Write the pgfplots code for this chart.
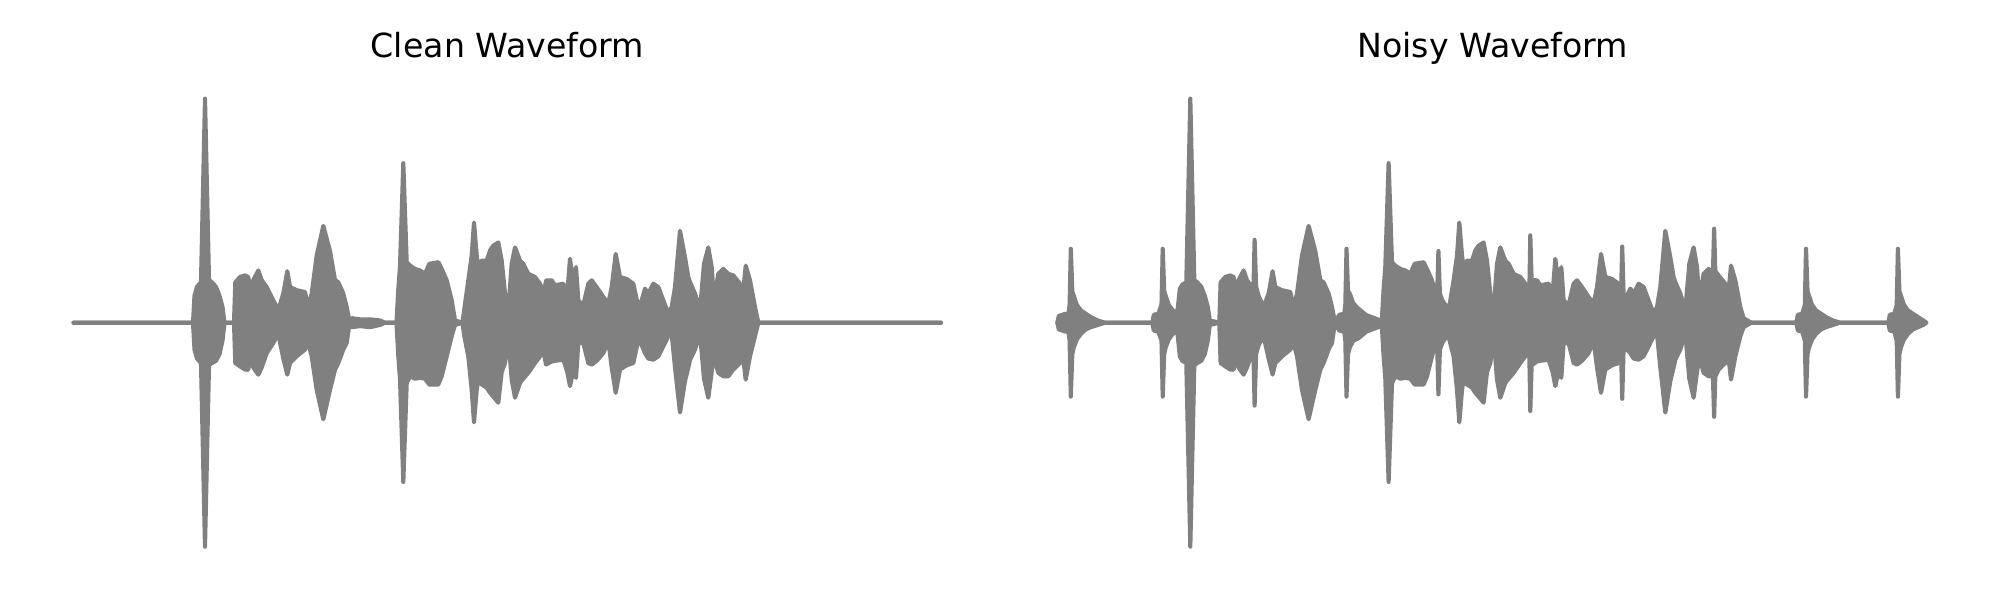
\documentclass[border=0pt]{standalone}
\usepackage{fontspec}
\setmainfont{DejaVu Sans}
\usepackage{pgfplots}
\pgfplotsset{compat=1.18}
\usepackage{pgfplotstable}
\definecolor{wf}{HTML}{808080}
\pgfplotstableread{
x u l
73.5 0 0
193 0 0
194.5 0.12 -0.12
197 0.16 -0.16
201 0.18 -0.18
205 1.0 -1.0
209 0.19 -0.19
212 0.18 -0.18
216 0.16 -0.17
219.5 0.12 -0.14
222.5 0.07 -0.08
224.5 0 0
234 0 0
235.3 0.18 -0.18
240 0.204 -0.195
245 0.211 -0.209
248.3 0.204 -0.21
250.7 0.13 -0.136
253.3 0.19 -0.20
258.3 0.233 -0.232
261.7 0.19 -0.20
266.7 0.159 -0.136
273.3 0.10 -0.09
278.3 0.056 -0.05
283.3 0.13 -0.16
287.3 0.23 -0.232
290 0.159 -0.18
296.7 0.145 -0.15
305 0.137 -0.12
308.3 0.07 -0.09
311.7 0.13 -0.15
316.7 0.30 -0.30
323.3 0.432 -0.431
330 0.32 -0.30
335 0.19 -0.21
338.3 0.18 -0.18
343.3 0.13 -0.12
346.7 0.07 -0.09
349.3 0.01 -0.01
352 0.02 -0.02
360 0.015 -0.015
370 0.015 -0.02
380 0.01 -0.01
385 0 0
396.5 0 0
398.3 0.15 -0.15
400 0.25 -0.25
403.3 0.712 -0.711
406.7 0.27 -0.27
410 0.255 -0.239
415 0.24 -0.25
420 0.233 -0.246
425 0.218 -0.25
429.3 0.263 -0.276
438.3 0.27 -0.276
441.7 0.24 -0.239
446.7 0.189 -0.15
451.7 0.10 -0.06
455 0.01 -0.01
462.5 0 0
464.3 0.06 -0.06
468.3 0.189 -0.15
471.7 0.30 -0.30
474 0.447 -0.445
476.7 0.30 -0.30
478.3 0.248 -0.254
481.7 0.277 -0.276
486.7 0.277 -0.29
490 0.322 -0.313
493.3 0.344 -0.33
498.3 0.358 -0.357
501.7 0.277 -0.22
505 0.13 -0.18
508.3 0.056 -0.062
511.7 0.263 -0.254
515 0.336 -0.335
520 0.277 -0.268
523.3 0.263 -0.25
528.3 0.218 -0.224
535 0.204 -0.18
540 0.174 -0.15
544 0.13 -0.136
546 0.189 -0.187
551.7 0.189 -0.173
555 0.167 -0.17
563.3 0.174 -0.165
567.3 0.13 -0.22
570 0.285 -0.283
572.7 0.189 -0.224
576 0.248 -0.246
578.3 0.10 -0.091
583.3 0.078 -0.091
588.3 0.174 -0.18
591.7 0.189 -0.187
596.7 0.159 -0.17
603.3 0.115 -0.136
608.3 0.086 -0.08
611.7 0.159 -0.20
615.7 0.307 -0.313
620 0.204 -0.209
626.7 0.195 -0.19
633.3 0.174 -0.18
638.3 0.071 -0.077
641.7 0.10 -0.10
645 0.152 -0.136
648.3 0.13 -0.16
653.3 0.174 -0.165
658.3 0.159 -0.15
663.3 0.10 -0.106
668.3 0.041 -0.06
671.7 0.07 -0.05
675 0.159 -0.20
680 0.41 -0.401
685 0.292 -0.26
688.3 0.204 -0.20
690 0.181 -0.165
695 0.13 -0.12
700 0.056 -0.047
704 0.263 -0.25
708.3 0.336 -0.335
711.7 0.248 -0.22
714 0.10 -0.15
718.3 0.218 -0.224
723.3 0.24 -0.239
728.3 0.218 -0.239
733.3 0.211 -0.209
740 0.174 -0.18
742.7 0.115 -0.136
745.7 0.255 -0.254
750 0.189 -0.15
755 0.07 -0.06
758.3 0 0
941 0 0
}\clean
\pgfplotstableread{
x u l
72 0 0
73.5 0.03 -0.03
77 0.035 -0.035
80 0.04 -0.04
83 0.035 -0.035
84.3 0.08 -0.08
85.5 0.33 -0.33
87 0.14 -0.14
88.5 0.12 -0.11
91.5 0.08 -0.075
95.5 0.055 -0.05
100.5 0.04 -0.03
105.5 0.025 -0.02
112.5 0.01 -0.01
119.5 0 0
167 0 0
168.5 0.035 -0.035
173 0.04 -0.04
176.2 0.08 -0.08
177.4 0.33 -0.33
178.9 0.14 -0.14
180.4 0.12 -0.11
183.4 0.08 -0.075
187.4 0.055 -0.05
192 0.045 -0.04
194.5 0.15 -0.15
197 0.17 -0.17
201 0.18 -0.18
205 1.0 -1.0
209 0.19 -0.19
212 0.18 -0.18
216 0.16 -0.17
219.5 0.12 -0.14
222.5 0.07 -0.08
224.5 0.01 -0.01
234 0 0
235.3 0.18 -0.18
240 0.204 -0.195
245 0.211 -0.209
248.3 0.204 -0.21
250.7 0.13 -0.136
253.3 0.19 -0.20
258.3 0.233 -0.232
261.7 0.19 -0.20
266.7 0.159 -0.136
268.1 0.14 -0.13
269.3 0.37 -0.37
270.8 0.16 -0.14
273.3 0.12 -0.10
278.3 0.07 -0.06
283.3 0.13 -0.16
287.3 0.23 -0.232
290 0.159 -0.18
296.7 0.145 -0.15
305 0.137 -0.12
308.3 0.07 -0.09
311.7 0.13 -0.15
316.7 0.30 -0.30
323.3 0.432 -0.431
330 0.32 -0.30
335 0.19 -0.21
338.3 0.18 -0.18
343.3 0.13 -0.12
346.7 0.07 -0.09
349.3 0.01 -0.01
352 0.02 -0.02
354 0.035 -0.035
359 0.04 -0.04
360 0.08 -0.08
361.2 0.33 -0.33
362.7 0.14 -0.14
364.5 0.13 -0.11
368 0.086 -0.08
373 0.063 -0.07
381 0.034 -0.04
394 0.012 -0.018
396.5 0.01 -0.01
398.3 0.15 -0.15
400 0.25 -0.25
403.3 0.712 -0.711
406.7 0.27 -0.27
410 0.255 -0.239
415 0.24 -0.25
420 0.233 -0.246
425 0.218 -0.25
429.3 0.263 -0.276
438.3 0.27 -0.276
441.7 0.24 -0.239
446.7 0.189 -0.15
451.7 0.10 -0.07
453.1 0.32 -0.32
454.6 0.13 -0.12
457 0.10 -0.09
460 0.08 -0.07
463.3 0.07 -0.065
464.3 0.08 -0.08
468.3 0.189 -0.15
471.7 0.30 -0.30
474 0.447 -0.445
476.7 0.30 -0.30
478.3 0.248 -0.254
481.7 0.277 -0.276
486.7 0.277 -0.29
490 0.322 -0.313
493.3 0.344 -0.33
498.3 0.358 -0.357
501.7 0.277 -0.22
505 0.13 -0.18
508.3 0.056 -0.062
511.7 0.263 -0.254
515 0.336 -0.335
520 0.277 -0.268
523.3 0.263 -0.25
528.3 0.218 -0.224
535 0.204 -0.18
540 0.174 -0.15
544 0.13 -0.136
545 0.39 -0.394
546.3 0.19 -0.19
551.7 0.189 -0.173
555 0.167 -0.17
563.3 0.174 -0.165
567.3 0.13 -0.22
570 0.285 -0.283
572.7 0.189 -0.224
576 0.248 -0.246
578.3 0.10 -0.091
583.3 0.078 -0.091
588.3 0.174 -0.18
591.7 0.189 -0.187
596.7 0.159 -0.17
603.3 0.115 -0.136
608.3 0.086 -0.08
611.7 0.159 -0.20
615.7 0.307 -0.313
620 0.204 -0.209
626.7 0.195 -0.19
633.3 0.174 -0.18
635.7 0.12 -0.12
636.9 0.34 -0.34
638.3 0.12 -0.11
641.7 0.12 -0.12
645 0.152 -0.136
648.3 0.13 -0.16
653.3 0.174 -0.165
658.3 0.159 -0.15
663.3 0.10 -0.106
668.3 0.041 -0.06
671.7 0.07 -0.05
675 0.159 -0.20
680 0.41 -0.401
685 0.292 -0.26
688.3 0.204 -0.20
690 0.181 -0.165
695 0.13 -0.12
700 0.056 -0.047
704 0.263 -0.25
708.3 0.336 -0.335
711.7 0.248 -0.22
714 0.10 -0.15
718.3 0.218 -0.224
723.3 0.24 -0.239
727.6 0.22 -0.239
728.8 0.42 -0.42
730 0.23 -0.24
733.3 0.211 -0.209
740 0.174 -0.18
742.7 0.115 -0.136
745.7 0.255 -0.254
750 0.189 -0.15
755 0.07 -0.06
758.3 0.02 -0.02
762 0.01 -0.01
766 0 0
811 0 0
812.5 0.035 -0.035
817 0.04 -0.04
819.5 0.08 -0.08
820.7 0.33 -0.33
822.2 0.14 -0.14
823.7 0.12 -0.11
826.7 0.08 -0.075
830.7 0.055 -0.05
835.7 0.04 -0.03
840.7 0.025 -0.02
847.7 0.01 -0.01
854.7 0 0
903 0 0
904.5 0.035 -0.035
909 0.04 -0.04
911.4 0.08 -0.08
912.6 0.33 -0.33
914.1 0.14 -0.14
915.6 0.12 -0.11
918.6 0.08 -0.075
922.6 0.055 -0.05
927.6 0.04 -0.03
932.6 0.025 -0.02
938 0.01 -0.01
941 0 0
}\noisy
\pgfplotsset{
  wave/.style={draw=wf, fill=wf, line width=3pt, line join=round, line cap=round},
  panel/.style={anchor=south west, scale only axis, width=8.71in, height=5.376in,
    xmin=72, xmax=943, ymin=-1.2, ymax=1.2, hide axis, clip=false},
}
\begin{document}
\begin{tikzpicture}
\path[use as bounding box] (0,0) rectangle (20in,6in);
\begin{axis}[panel, at={(0.72in,0.085in)}]
\addplot[wave] table[x=x,y=u]{\clean} \closedcycle;
\addplot[wave] table[x=x,y=l]{\clean} \closedcycle;
\node[anchor=base, font=\fontsize{24}{28}\selectfont] at (rel axis cs:0.5,0.9937) {Clean Waveform};
\end{axis}
\begin{axis}[panel, at={(10.573in,0.085in)}]
\addplot[wave] table[x=x,y=u]{\noisy} \closedcycle;
\addplot[wave] table[x=x,y=l]{\noisy} \closedcycle;
\node[anchor=base, font=\fontsize{24}{28}\selectfont] at (rel axis cs:0.5,0.9937) {Noisy Waveform};
\end{axis}
\end{tikzpicture}
\end{document}
